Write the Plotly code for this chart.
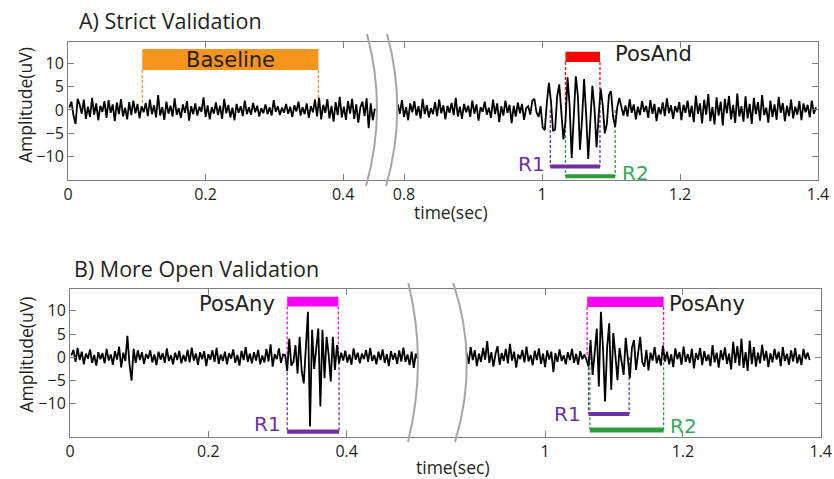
import numpy as np
import plotly.graph_objects as go

# ---------------- data ----------------
dt = 0.003  # sample spacing of the traced signals (s)

a_left_t0 = 0.002
a_left = [
    0.5, 1.8, -1.2, -3.0, 2.4, 1.1, -0.8, 2.2, -1.9, 0.7, -1.5, 2.6, -1.0, 1.4, -2.2,
    0.9, -0.4, 1.9, -1.7, 2.1, -0.6, 1.2, -2.4, 1.6, -0.9, 2.3, -1.4, 0.5, -2.0, 1.7,
    -1.1, 2.0, -0.7, 1.3, -1.8, 0.8, -0.5, 1.5, -1.3, 2.2, -0.9, 1.0, -1.6, 3.2, -1.2,
    0.6, -2.1, 1.8, -0.8, 0.9, -1.4, 2.5, -1.0, 0.4, -1.7, 1.2, -0.6, 1.9, -2.3, 0.8,
    -0.9, 1.4, -1.2, 0.7, -0.4, 2.7, -1.5, 1.0, -2.0, 0.6, -0.8, 1.6, -1.1, 0.9, -1.9,
    2.4, -0.7, 1.1, -1.6, 0.5, -2.2, 1.3, -0.6, 0.8, -1.3, 2.0, -0.9, 0.6, -1.0, 1.5,
    -0.5, 0.9, -1.4, 0.4, -0.7, 1.2, -0.9, 0.6, -1.2, 2.1, -0.4, 0.8, -1.1, 0.5, -0.6,
    1.3, -0.8, 0.7, -1.5, 1.0, -0.3, 1.8, -1.2, 0.6, -0.9, 1.4, -1.7, 0.8, -0.5, 2.2,
    -1.4, 2.6, -2.0, 1.1, -0.6, 2.3, -1.8, 0.9, -2.5, 1.7, -1.1, 2.8, -1.6, 0.7, -2.1,
    1.9, -0.8, 2.4, -1.9, 1.2, -2.7, 0.6, 1.8, -1.3, 2.5, -3.9, 1.4, -2.2, 0.3,
]

a_right_t0 = 0.791
a_right = [
    1.2, -0.8, 2.1, -1.5, 0.6, -2.2, 1.4, -0.5, 1.9, -1.2, 0.8, -1.8, 2.4, -0.9, 1.1,
    -1.6, 0.4, -0.9, 1.7, -1.3, 2.2, -0.7, 1.0, -2.0, 0.9, -0.6, 1.5, -1.1, 2.6, -1.4,
    0.7, -1.9, 1.3, -0.5, 0.9, -1.5, 2.0, -0.8, 1.2, -2.3, 0.6, -0.4, 1.8, -1.0, 0.5,
    -1.7, 2.2, -0.9, 1.4, -2.6, 0.8, -1.2, 2.0, -0.6, 1.1, -2.8, 0.9, -1.4, 1.6, -0.7,
    1.3, -2.1, 0.4,
    0.8, -1.0, 2.0, 2.4, -0.5, -1.5, 0.8, -3.8, -4.3, 1.5, 5.8, 1.8, -4.5, -4.2, 3.0,
    5.5, 0.5, -6.3, -2.5, 7.0, 1.0, -10.3, -1.5, 7.2, 3.0, -8.5, -2.0, 6.6, -1.0, -10.5,
    -2.5, 5.2, 0.5, -8.0, -1.5, 4.6, 1.0, -5.0, -3.0, 3.2, 4.0, -1.5, -3.6, 0.5, 2.6,
    0.8, -1.2, 1.0,
    -1.4, 2.3, -0.6, 1.2, -2.0, 0.7, -1.1, 1.9, -0.4, 0.9, -1.7, 2.1, -0.8, 1.3, -2.4,
    0.6, -0.9, 1.6, -1.3, 2.5, -0.7, 1.0, -1.9, 0.8, -0.5, 1.7, -2.2, 1.1, -0.6, 2.0,
    -1.5, 0.9, -2.6, 3.1, -0.8, 1.4, -2.9, 2.2, -1.0, 3.4, -2.4, 0.6, -3.1, 2.7, -1.2,
    1.8, -3.3, 2.4, -0.7, 3.0, -2.0, 1.1, -2.8, 3.5, -1.4, 0.8, -2.5, 2.9, -1.8, 1.3,
    -3.0, 2.6, -0.9, 1.7, -2.3, 3.2, -1.1, 0.5, -2.7, 2.0, -1.5, 1.2, -2.1, 2.8, -0.6,
    1.5, -2.4, 0.9, -1.3, 2.2, -1.8, 0.7, -1.0, 1.9, -2.2, 1.4, -0.5, 1.1, -1.6, 2.0,
    -0.8, 0.6,
]

b_left_t0 = 0.002
b_left = [
    0.4, 1.6, -1.0, 2.0, -0.6, 1.2, -1.5, 0.8, -0.3, 1.7, -1.2, 0.5, -1.8, 1.1, -0.4,
    0.9, -1.3, 1.8, -0.7, 0.6, -1.6, 1.3, -0.5,
    2.3, -2.2, 1.0, -0.8, 4.6, -1.5, -5.0, 1.8, -1.2, 1.5,
    -0.6, 1.1, -1.4, 0.7, -0.3, 1.5, -1.1, 0.6, -1.7, 1.2,
    -0.5, 0.9, -1.2, 1.9, -0.8, 0.4, -1.5, 1.0, -0.6, 1.4,
    -1.3, 0.5, -0.9, 1.6, -1.1, 2.1, -0.7, 0.8, -1.6, 1.1,
    -0.4, 1.3, -1.9, 0.7, -0.5, 1.5, -1.0, 2.0, -1.4, 0.6,
    -0.8, 1.2, -1.5, 0.9, -0.3, 1.7, -1.2, 0.5, -1.8, 1.4,
    -0.6, 2.2, -1.0, 0.8, -1.3, 1.1, -0.7, 1.6, -1.5, 0.4,
    -1.1, 1.8, -0.9, 2.8, -2.0, 0.7, -0.4, 1.9, -1.2, 0.6,
    0.5, -3.0, 4.0, -1.8, -1.0, 2.6, -3.5, 4.4, -3.0, -5.6, 1.5, 9.8, -14.9, 5.9,
    -2.5, 2.0, 6.2, -10.6, 5.9, -4.5, 4.4, 0.5, -5.2, 4.4, -2.7, 2.6, -1.3, 1.0,
    -0.7, 1.4, -1.1, 0.6, -1.6, 1.9, -0.5, 1.0, -1.3, 0.8,
    -0.4, 1.6, -1.0, 2.0, -0.8, 0.5, -1.5, 1.2, -0.6, 1.7,
    -1.2, 0.7, -1.9, 1.3, -0.5, 0.9, -1.4, 1.5, -0.9, 2.1,
    -1.0, 0.6, -1.7, 1.2, -2.3, 0.8, -0.4,
]

b_right_t0 = 0.886
b_right = [
    1.0, -1.4, 2.2, -0.6, 1.5, -1.9, 0.8, -1.0, 2.0, -0.5,
    3.5, -1.2, 1.1, -2.0, 0.7, 2.4, -1.6, 0.9, -0.8, 1.8,
    -1.3, 2.9, -0.7, 1.2, -2.2, 0.6, -0.4, 1.6, -1.1, 2.3,
    -0.9, 0.5, -1.7, 1.4, -0.6, 1.9, -1.4, 0.8, -2.1, 1.5,
    -0.5, 1.2, -3.2, 0.9, -1.0, 1.7, -0.8, 0.4, -1.5, 1.1,
    -0.6, 1.8, -1.2, 0.7, -1.6, 1.3, -0.4, 0.6,
    -0.5, -2.0, 3.7, -3.8, 1.0, 6.2, -6.3, 9.8, 2.0, -9.5, 2.0, 7.3, -7.0, 5.2, 0.5,
    -4.9, 2.0, -1.5, -3.8, 4.2, 0.0, -4.5, 2.0, 3.7, -2.7, 1.0, 4.4, -1.0, -2.0,
    1.6, -2.8, 1.0, -0.7, 2.2, -1.3, 0.5, -1.8, 2.5, -0.9,
    1.2, -1.5, 0.6, -2.1, 1.9, -0.4, 1.1, -1.6, 2.3, -1.0,
    0.7, -1.2, 1.8, -2.4, 0.9, -0.5, 2.0, -1.7, 1.3, -0.8,
    0.6, -1.9, 2.6, -1.1, 1.0, -2.2, 1.5, -0.6, 2.1, -1.4,
    0.8, -2.6, 3.3, -1.2, 2.4, -1.8, 4.0, -2.3, 1.1, -2.9,
    3.6, -1.5, 2.2, -2.0, 1.0, -1.3, 2.7, -0.7, 1.4, -2.1,
    0.9, -1.1, 1.8, -0.5, 1.2, -1.9, 2.2, -0.8, 0.7, -1.6,
    1.5, -0.9, 2.0, -1.3, 0.6, -1.7, 1.8, -0.4, 1.0, -0.6,
]

# validation windows (s)
a_baseline = [0.108, 0.364]
a_posand = [1.034, 1.084]
a_r1 = [1.012, 1.084]
a_r2 = [1.034, 1.106]
b_posany_1 = [0.314, 0.388]
b_r1_1 = [0.314, 0.389]
b_posany_2 = [1.061, 1.172]
b_r1_2 = [1.063, 1.122]
b_r2_2 = [1.065, 1.172]

x_ticks_a_left = [0, 0.2, 0.4]
x_ticks_a_right = [0.8, 1, 1.2, 1.4]
x_ticks_b_left = [0, 0.2, 0.4]
x_ticks_b_right = [1, 1.2, 1.4]
y_ticks = [-10, -5, 0, 5, 10]

# ---------------- figure ----------------
W, H = 834, 479


def fx(p):
    return p / W


def fy(p):
    return 1 - p / H


FRAME = "#7f7f7f"
TXT = "#231f20"
PURPLE = "#7030a0"
GREEN = "#2e9b3a"
GREEN_T = "#3aa85a"
MAGENTA = "#ff00ff"
RED = "#ff0000"
ORANGE = "#f7941d"
TICKFONT = dict(family="Open Sans", size=16, color=TXT)

fig = go.Figure()
for vals, t0, xa, ya in [
    (a_left, a_left_t0, "x", "y"),
    (a_right, a_right_t0, "x2", "y2"),
    (b_left, b_left_t0, "x3", "y3"),
    (b_right, b_right_t0, "x4", "y4"),
]:
    t = t0 + dt * np.arange(len(vals))
    fig.add_trace(go.Scatter(x=t, y=vals, mode="lines",
                             line=dict(color="black", width=1.8),
                             xaxis=xa, yaxis=ya, hoverinfo="skip", showlegend=False))


def xax(dom, rng, anchor, ticks):
    return dict(domain=[fx(dom[0]), fx(dom[1])], range=rng, anchor=anchor,
                tickvals=ticks, ticktext=["%g" % v for v in ticks],
                showline=True, linecolor=FRAME, linewidth=1, mirror="ticks",
                ticks="inside", ticklen=6, tickcolor=FRAME, showgrid=False,
                zeroline=False, tickfont=TICKFONT, automargin=False, fixedrange=True)


def yax(dom, rng, anchor, side, labels):
    return dict(domain=[fy(dom[1]), fy(dom[0])], range=rng, anchor=anchor, side=side,
                tickvals=y_ticks, showticklabels=labels,
                showline=True, linecolor=FRAME, linewidth=1, mirror=False,
                ticks="inside", ticklen=6, tickcolor=FRAME, showgrid=False,
                zeroline=False, tickfont=TICKFONT, automargin=False, fixedrange=True)


A_Y = (41.5, 180)
A_YR = [-15, 14.67]
B_Y = (289.3, 437)
B_YR = [-17.14, 14.62]

fig.update_layout(
    width=W, height=H,
    margin=dict(l=0, r=0, t=0, b=0, pad=0),
    paper_bgcolor="white", plot_bgcolor="white",
    xaxis=xax((68, 382), [0, 0.4564], "y", x_ticks_a_left),
    yaxis=yax(A_Y, A_YR, "x", "left", True),
    xaxis2=xax((382, 818), [0.7681, 1.4], "y2", x_ticks_a_right),
    yaxis2=yax(A_Y, A_YR, "x2", "right", False),
    xaxis3=xax((70, 437), [0, 0.5306], "y3", x_ticks_b_left),
    yaxis3=yax(B_Y, B_YR, "x3", "left", True),
    xaxis4=xax((437, 820.7), [0.8431, 1.4], "y4", x_ticks_b_right),
    yaxis4=yax(B_Y, B_YR, "x4", "right", False),
)

shapes = []


def vdash(xr, yr, x, y0, y1, color):
    shapes.append(dict(type="line", xref=xr, yref=yr, x0=x, x1=x, y0=y0, y1=y1,
                       line=dict(color=color, width=1.3, dash="3px,2px"), layer="below"))


def bar(xr, yr, win, y0, y1, color):
    shapes.append(dict(type="rect", xref=xr, yref=yr, x0=win[0], x1=win[1], y0=y0, y1=y1,
                       fillcolor=color, line=dict(width=0), layer="above"))


# Panel A
bar("x", "y", a_baseline, 8.57, 13.06, ORANGE)
for v in a_baseline:
    vdash("x", "y", v, 8.57, 1.0, ORANGE)
bar("x2", "y2", a_posand, 10.3, 12.5, RED)
for v in a_posand:
    vdash("x2", "y2", v, 10.3, 0.5, RED)
bar("x2", "y2", a_r1, -12.55, -11.7, PURPLE)
for v in a_r1:
    vdash("x2", "y2", v, 0.0, -12.1, PURPLE)
bar("x2", "y2", a_r2, -14.65, -13.75, GREEN)
for v in a_r2:
    vdash("x2", "y2", v, 0.0, -14.2, GREEN)

# Panel B
bar("x3", "y3", b_posany_1, 10.9, 13.0, MAGENTA)
for v in b_posany_1:
    vdash("x3", "y3", v, 10.9, 0.0, MAGENTA)
bar("x3", "y3", b_r1_1, -16.45, -15.55, PURPLE)
for v in b_r1_1:
    vdash("x3", "y3", v, 0.0, -16.0, PURPLE)
bar("x4", "y4", b_posany_2, 10.8, 13.0, MAGENTA)
for v in b_posany_2:
    vdash("x4", "y4", v, 10.8, 0.0, MAGENTA)
bar("x4", "y4", b_r1_2, -12.65, -11.75, PURPLE)
for v in b_r1_2:
    vdash("x4", "y4", v, 0.0, -12.2, PURPLE)
bar("x4", "y4", b_r2_2, -16.15, -15.1, GREEN)
for v in b_r2_2:
    vdash("x4", "y4", v, 0.0, -15.6, GREEN)


def arc(x0, y0, cx, cy, x1, y1):
    shapes.append(dict(type="path", xref="paper", yref="paper",
                       path="M %f,%f Q %f,%f %f,%f" % (fx(x0), fy(y0), fx(cx), fy(cy), fx(x1), fy(y1)),
                       line=dict(color="#a6a6a6", width=2), layer="above"))


# axis-break marks
arc(367, 34, 387.5, 110, 366, 186)
arc(387, 34, 408, 110, 386, 186)
arc(408.3, 283, 427.8, 362, 408, 442)
arc(453.3, 283, 479.4, 362, 455, 442)

fig.update_layout(shapes=shapes)

ann = []
LBL = "DejaVu Sans"


def note(text, x, y, xr, yr, color, size, xanchor="center"):
    ann.append(dict(text=text, x=x, y=y, xref=xr, yref=yr, showarrow=False,
                    xanchor=xanchor, yanchor="middle",
                    font=dict(family=LBL, size=size, color=color)))


note("Baseline", sum(a_baseline) / 2, 10.8, "x", "y", TXT, 21)
note("PosAnd", a_posand[1] + 0.019, 12.0, "x2", "y2", TXT, 21, "left")
note("R1", a_r1[0] - 0.005, -11.6, "x2", "y2", PURPLE, 20, "right")
note("R2", a_r2[1] + 0.007, -13.4, "x2", "y2", GREEN_T, 20, "left")
note("PosAny", b_posany_1[0] - 0.015, 11.4, "x3", "y3", TXT, 21, "right")
note("R1", b_r1_1[0] - 0.0055, -14.3, "x3", "y3", PURPLE, 20, "right")
note("PosAny", b_posany_2[1] + 0.005, 11.4, "x4", "y4", TXT, 21, "left")
note("R1", b_r1_2[0] - 0.0075, -12.2, "x4", "y4", PURPLE, 20, "right")
note("R2", b_r2_2[1] + 0.007, -14.7, "x4", "y4", GREEN_T, 20, "left")

TFONT = dict(family="Open Sans", size=21.5, color=TXT)
AFONT = dict(family="Open Sans", size=17.5, color=TXT)
ann += [
    dict(text="A) Strict Validation", x=fx(77), y=fy(20), xref="paper", yref="paper",
         xanchor="left", yanchor="middle", showarrow=False, font=TFONT),
    dict(text="B) More Open Validation", x=fx(72), y=fy(268), xref="paper", yref="paper",
         xanchor="left", yanchor="middle", showarrow=False, font=TFONT),
    dict(text="Amplitude(uV)", x=fx(25), y=fy(105), xref="paper", yref="paper",
         xanchor="center", yanchor="middle", textangle=-90, showarrow=False, font=AFONT),
    dict(text="Amplitude(uV)", x=fx(25.5), y=fy(355), xref="paper", yref="paper",
         xanchor="center", yanchor="middle", textangle=-90, showarrow=False, font=AFONT),
    dict(text="time(sec)", x=fx(451), y=fy(212), xref="paper", yref="paper",
         xanchor="center", yanchor="middle", showarrow=False, font=AFONT),
    dict(text="time(sec)", x=fx(453), y=fy(467), xref="paper", yref="paper",
         xanchor="center", yanchor="middle", showarrow=False, font=AFONT),
]
fig.update_layout(annotations=ann)

# the page's default 8px body margin would shift the figure; remove it
fig.write_html("out.html", config={"displayModeBar": False},
               post_script="document.body.style.margin='0px';")
